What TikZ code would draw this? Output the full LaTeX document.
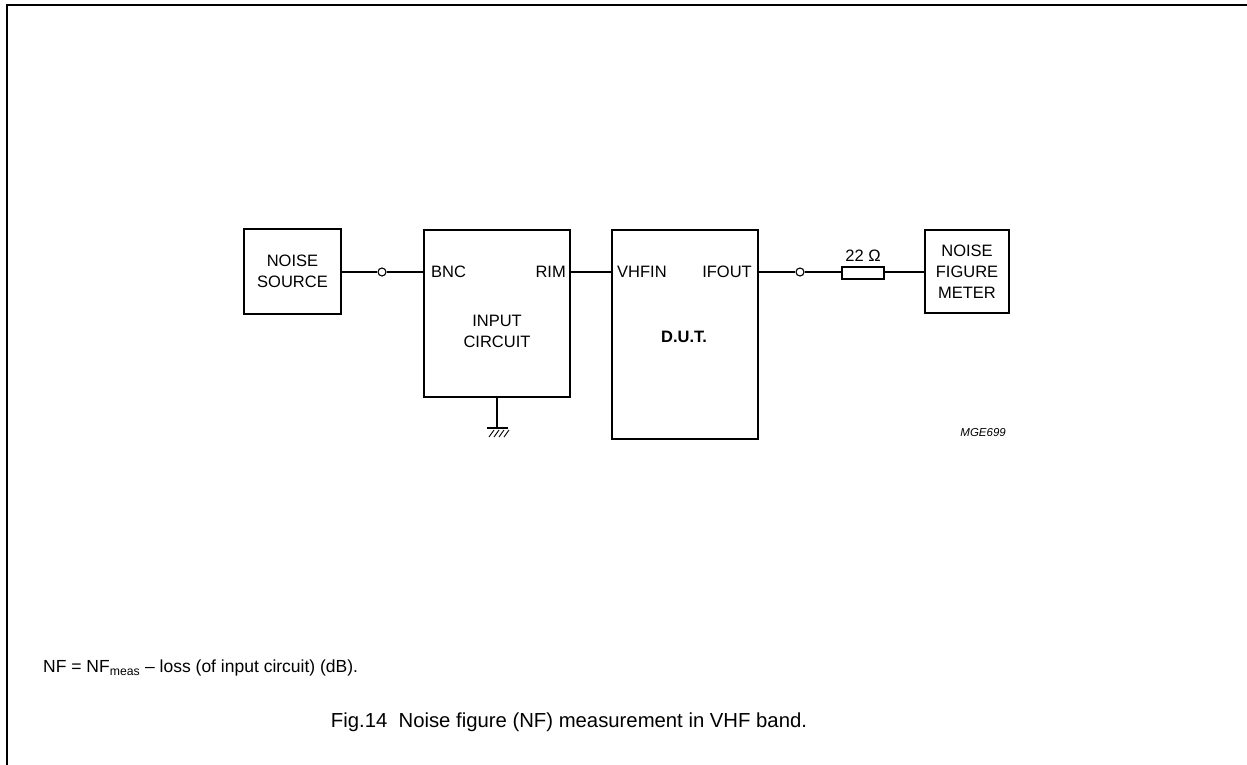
\documentclass[tikz,border=0pt]{standalone}
\usepackage{fontspec}
\setmainfont{Liberation Sans}
\usetikzlibrary{positioning,calc}

\begin{document}
\begin{tikzpicture}[
    x=1pt, y=-1pt,
    block/.style={rectangle, draw, line width=1.8pt, inner sep=0pt, align=center, font=\fontsize{16.5}{21}\selectfont},
    pin/.style={inner sep=0pt, font=\fontsize{16.5}{21}\selectfont},
    jack/.style={circle, draw, line width=1.1pt, fill=white, inner sep=0pt, minimum size=8pt},
    wire/.style={line width=1.3pt}
]
\useasboundingbox (0,0) rectangle (1247,764);

% Frame
\draw[line width=2pt] (7,780) -- (7,5) -- (1260,5);

% Blocks
\node[block, minimum width=97pt, minimum height=85pt] (src) at (292.5,271.5) {NOISE\\SOURCE};
\node[block, minimum width=146pt, minimum height=167pt] (inp) at (497,313.5) {};
\node[block, minimum width=146pt, minimum height=209pt] (dut) at (685,334.5) {};
\node[block, minimum width=84pt, minimum height=83pt] (nfm) at (967,271.5) {NOISE\\FIGURE\\METER};

% Pin labels
\node[pin, anchor=west] (bnc) at (431,272) {BNC};
\node[pin, anchor=east] (rim) at (566,272) {RIM};
\node[pin, align=center] (inplbl) at (497,331) {INPUT\\CIRCUIT};
\node[pin, anchor=west] (vhfin) at (617,272) {VHFIN};
\node[pin, anchor=east] (ifout) at (752,272) {IFOUT};
\node[pin, font=\fontsize{16.5}{21}\selectfont\bfseries] (dutlbl) at (684,337) {D.U.T.};

% Jacks and resistor
\node[jack] (jack1) at (382,272) {};
\node[jack] (jack2) at (800,272) {};
\node[rectangle, draw, line width=1.1pt, minimum width=42pt, minimum height=12pt, inner sep=0pt] (res) at (863,273) {};
\node[pin, above=5pt of res] (reslbl) {22 Ω};

% Wires
\draw[wire] (src.east |- jack1) -- (jack1);
\draw[wire] (jack1) -- (jack1 -| inp.west);
\draw[wire] (inp.east |- jack1) -- (dut.west |- jack1);
\draw[wire] (dut.east |- jack2) -- (jack2);
\draw[wire] (jack2) -- (res.west |- jack2);
\draw[wire] (res.east |- jack2) -- (nfm.west |- jack2);

% Ground
\coordinate (gnd) at (497,428);
\draw[wire] (inp.south) -- (gnd);
\draw[line width=2.6pt] ($(gnd)+(-10.5,0)$) -- ($(gnd)+(10.5,0)$);
\foreach \dx in {-8,-3,2,7}
    \draw[line width=0.9pt] ($(gnd)+(\dx,9)$) -- ($(gnd)+(\dx+5,2)$);

% Notes
\node[anchor=east, inner sep=0pt, font=\fontsize{11.5}{14}\selectfont\itshape] (code) at (1006,433) {MGE699};
\node[anchor=west, inner sep=0pt, font=\fontsize{17.5}{20}\selectfont] (formula) at (43,668) {NF = NF\textsubscript{meas} -- loss (of input circuit) (dB).};
\node[inner sep=0pt, font=\fontsize{20.3}{24}\selectfont] (caption) at (569,722) {Fig.14\ \ Noise figure (NF) measurement in VHF band.};

\end{tikzpicture}
\end{document}
